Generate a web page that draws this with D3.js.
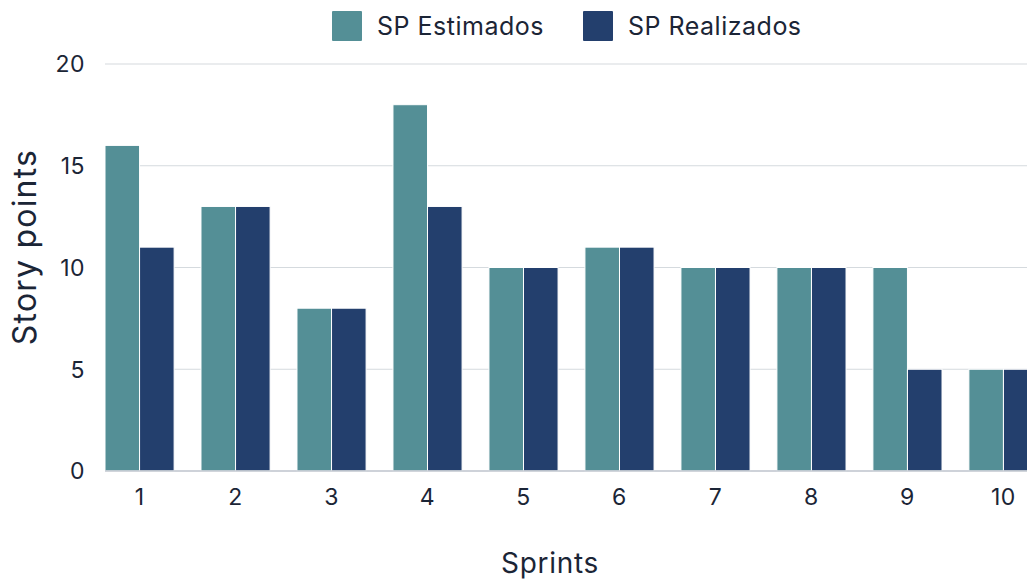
<!DOCTYPE html>
<html>
<head>
<meta charset="utf-8">
<script src="https://cdn.jsdelivr.net/npm/d3@7"></script>
<style>
  html, body { margin: 0; padding: 0; background: #ffffff; overflow: hidden; }
  svg { display: block; font-family: Inter, "Open Sans", sans-serif; }
</style>
</head>
<body>
<svg id="chart" width="1027" height="580"></svg>
<script>
// Story points per sprint
const sprints = ["1", "2", "3", "4", "5", "6", "7", "8", "9", "10"];
const seriesNames = ["SP Estimados", "SP Realizados"];
const estimados = [16, 13, 8, 18, 10, 11, 10, 10, 10, 5];
const realizados = [11, 13, 8, 13, 10, 11, 10, 10, 5, 5];
const yTicks = [0, 5, 10, 15, 20];
const colors = ["#548f96", "#233f6d"];

const svg = d3.select("#chart");
const textColor = "#1b2536";

const plotLeft = 105, plotBottom = 471, plotTop = 64;
const x = d3.scaleBand().domain(sprints)
  .range([plotLeft, plotLeft + 933]).paddingInner(0.28).paddingOuter(0);
const xSub = d3.scaleBand().domain(seriesNames).range([0, x.bandwidth()]).padding(0);
const y = d3.scaleLinear().domain([0, 20]).range([plotBottom, plotTop]);

// horizontal grid
svg.append("g").selectAll("line").data(yTicks).join("line")
  .attr("x1", plotLeft).attr("x2", 1027)
  .attr("y1", d => y(d)).attr("y2", d => y(d))
  .attr("stroke", "#d5dade").attr("stroke-width", 1.2);

// y tick labels
svg.append("g").selectAll("text").data(yTicks).join("text")
  .attr("x", 85).attr("y", d => y(d)).attr("dy", "0.36em")
  .attr("text-anchor", "end").attr("font-size", 23)
  .attr("letter-spacing", 0.5)
  .attr("fill", textColor).text(d => d);

// bars
const rows = sprints.map((s, i) => ({ s, vals: [estimados[i], realizados[i]] }));
const groups = svg.append("g").selectAll("g").data(rows).join("g")
  .attr("transform", d => `translate(${x(d.s)},0)`);
groups.selectAll("rect").data(d => d.vals.map((v, j) => ({ name: seriesNames[j], v, j })))
  .join("rect")
  .attr("x", d => xSub(d.name))
  .attr("width", xSub.bandwidth())
  .attr("y", d => y(d.v))
  .attr("height", d => y(0) - y(d.v))
  .attr("fill", d => colors[d.j])
  .attr("stroke", "#ffffff").attr("stroke-width", 1);

// baseline
svg.append("line").attr("x1", plotLeft).attr("x2", 1027)
  .attr("y1", y(0)).attr("y2", y(0))
  .attr("stroke", "#c4cad2").attr("stroke-width", 1.5);

// x tick labels
svg.append("g").selectAll("text").data(sprints).join("text")
  .attr("x", d => x(d) + x.bandwidth() / 2).attr("y", 505)
  .attr("text-anchor", "middle").attr("font-size", 23)
  .attr("letter-spacing", 0.5)
  .attr("fill", textColor).text(d => d);

// axis titles
svg.append("text").attr("x", 550).attr("y", 573)
  .attr("text-anchor", "middle").attr("font-size", 28)
  .attr("letter-spacing", 0.7)
  .attr("fill", textColor).text("Sprints");
svg.append("text")
  .attr("transform", "translate(36,247) rotate(-90)")
  .attr("text-anchor", "middle").attr("font-size", 32)
  .attr("letter-spacing", 1.2)
  .attr("fill", textColor).text("Story points");

// legend
const legendX = [332, 583];
const lg = svg.append("g").selectAll("g").data(seriesNames).join("g")
  .attr("transform", (d, i) => `translate(${legendX[i]},11)`);
lg.append("rect").attr("width", 30).attr("height", 30)
  .attr("rx", 1).attr("fill", (d, i) => colors[i]);
lg.append("text").attr("x", 45).attr("y", 15).attr("dy", "0.36em")
  .attr("font-size", 25).attr("letter-spacing", 0.5)
  .attr("fill", textColor).text(d => d);
</script>
</body>
</html>
